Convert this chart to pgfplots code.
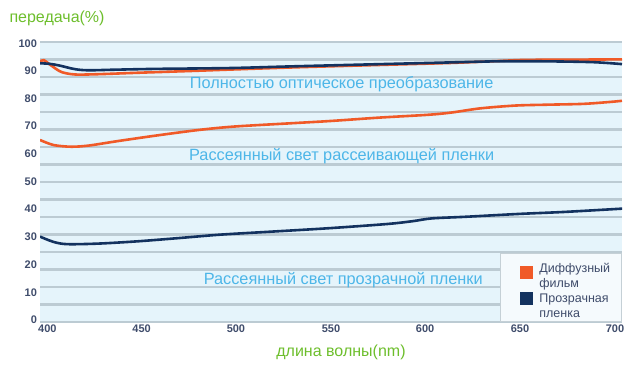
\documentclass[border=0pt]{standalone}
\usepackage{pgfplots}
\pgfplotsset{compat=1.18}
\usepackage{fontspec}
\setmainfont{Liberation Sans}
\definecolor{diffcol}{HTML}{F05A28}
\definecolor{clearcol}{HTML}{13325F}
\definecolor{bgcol}{HTML}{E5F4FB}
\definecolor{gridcol}{HTML}{BCCBD3}
\definecolor{annot}{HTML}{4DB6E8}
\definecolor{titlecol}{HTML}{6DBE2C}
\definecolor{tickcol}{HTML}{3F4C6B}
\definecolor{legfill}{HTML}{F5FAFD}
\definecolor{legdraw}{HTML}{C5D0D6}
\begin{document}
\begin{tikzpicture}
\useasboundingbox (0,0) rectangle (630bp,380bp);
\begin{axis}[
  at={(40bp,58bp)}, anchor=south west,
  scale only axis, width=582bp, height=280bp,
  xmin=400, xmax=700, ymin=0, ymax=100,
  axis background/.style={fill=bgcol},
  axis line style={draw=none},
  xtick={403.8,452.4,501,550,598.5,647.4,696.4},
  xticklabels={400,450,500,550,600,650,700},
  ytick={0.7,10.6,20.5,30.4,40.3,50.2,60.1,70,79.9,89.8,99.3},
  yticklabels={0,10,20,30,40,50,60,70,80,90,100},
  minor ytick={0,6.25,12.5,18.75,25,31.25,37.5,43.75,50,56.25,62.5,68.75,75,81.25,87.5,93.75,100},
  yminorgrids=true, ymajorgrids=false,
  minor grid style={draw=gridcol, line width=2.2bp},
  tick style={draw=none}, minor tick style={draw=none},
  tick label style={font=\fontsize{11bp}{13bp}\selectfont\bfseries, text=tickcol},
  yticklabel style={xshift=0.5bp},
  xticklabel style={yshift=1bp},
  legend style={at={(1,0)}, anchor=south east, fill=legfill, draw=legdraw, line width=1.2bp,
    font=\fontsize{12.5bp}{14.5bp}\selectfont, text=tickcol,
    inner xsep=0pt, inner ysep=5bp, row sep=2bp},
  legend cell align=left,
]
\addplot[diffcol, line width=2.6bp, smooth, tension=0.5, forget plot] coordinates {
(400,93.0)(402,93.5)(406,91.5)(411,89.3)(418,88.4)(430,88.5)(450,89.0)(480,89.7)(500,90.2)(534,91.0)(575,91.8)(611,92.5)(636,93.2)(650,93.6)(675,93.7)(700,93.8)};
\addplot[clearcol, line width=2.6bp, smooth, tension=0.5, forget plot] coordinates {
(400,92.4)(405,92.2)(410,91.6)(418,90.3)(425,89.9)(438,90.1)(460,90.4)(498,90.7)(530,91.3)(570,92.0)(611,92.7)(636,93.1)(660,93.1)(685,92.8)(700,92.1)};
\addplot[diffcol, line width=2.6bp, smooth, tension=0.5, forget plot] coordinates {
(400,65.0)(407,63.2)(416,62.6)(425,63.0)(440,64.6)(460,66.6)(482,68.6)(500,69.8)(530,71.0)(550,71.8)(575,73.0)(600,74.0)(612,74.8)(627,76.3)(645,77.3)(661,77.6)(680,77.9)(694,78.6)(700,79.0)};
\addplot[clearcol, line width=2.6bp, smooth, tension=0.5, forget plot] coordinates {
(400,30.5)(407,28.6)(414,27.8)(430,28.0)(450,28.8)(472,30.0)(493,31.2)(520,32.3)(549,33.5)(579,35.0)(592,36.0)(602,37.0)(620,37.6)(647,38.6)(670,39.3)(698,40.4)(700,40.5)};
\addlegendimage{legend image code/.code={\path[draw=none,fill=none] (0bp,-14bp) rectangle (37bp,14bp); \fill[diffcol,draw=none] (20bp,-6.5bp) rectangle (33bp,6.5bp);}}
\addlegendentry{\parbox[c]{80bp}{Диффузный\\фильм}}
\addlegendimage{legend image code/.code={\path[draw=none,fill=none] (0bp,-14bp) rectangle (37bp,14bp); \fill[clearcol,draw=none] (20bp,-3bp) rectangle (33bp,10bp);}}
\addlegendentry{\parbox[c]{80bp}{Прозрачная\\пленка}}
\node[text=annot, font=\fontsize{16.3bp}{19bp}\selectfont] at (axis cs:555.5,84.9) {Полностью оптическое преобразование};
\node[text=annot, font=\fontsize{16.3bp}{19bp}\selectfont] at (axis cs:555.5,59.3) {Рассеянный свет рассеивающей пленки};
\node[text=annot, font=\fontsize{16.3bp}{19bp}\selectfont] at (axis cs:556.3,15) {Рассеянный свет прозрачной пленки};
\end{axis}
\node[anchor=west, text=titlecol, font=\fontsize{16bp}{19bp}\selectfont] at (6bp,362bp) {передача(\%)};
\node[text=titlecol, font=\fontsize{16bp}{19bp}\selectfont] at (341bp,28bp) {длина волны(nm)};
\end{tikzpicture}
\end{document}
